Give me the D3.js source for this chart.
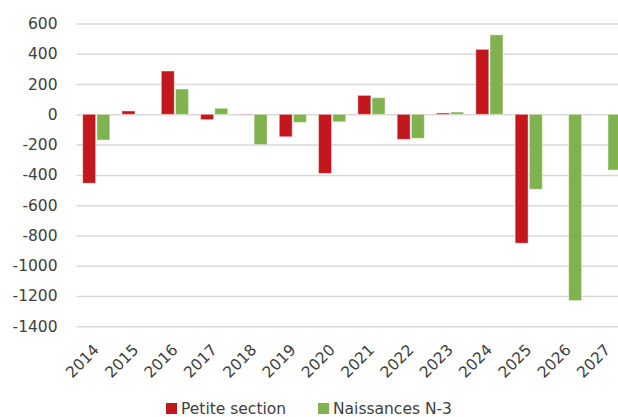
<!DOCTYPE html>
<html>
<head>
<meta charset="utf-8">
<script src="https://cdn.jsdelivr.net/npm/d3@7"></script>
<style>
  body { margin:0; background:#fff; }
  svg text { font-family: "DejaVu Sans", sans-serif; fill:#404040; }
</style>
</head>
<body>
<div class="chart"></div>
<script>
const years = ["2014","2015","2016","2017","2018","2019","2020","2021","2022","2023","2024","2025","2026","2027"];
const petiteSection = [-455, 22, 286, -35, 2, -148, -390, 125, -165, 9, 429, -851, 0, 0];
const naissances = [-170, 0, 167, 40, -200, -53, -49, 110, -158, 15, 525, -495, -1230, -368];
const yTicks = [600, 400, 200, 0, -200, -400, -600, -800, -1000, -1200, -1400];
const seriesNames = ["Petite section", "Naissances N-3"];
const colors = ["#c3161d", "#80b350"];

const W = 618, H = 417;
const fontSize = "15.5px";

const svg = d3.select(".chart")
    .append("svg")
    .attr("width", W)
    .attr("height", H);

// x: band per year, chart continues a bit past the right edge
let xScale = d3.scaleBand()
    .domain(years)
    .range([76.6, 627])
    .paddingInner(0)
    .paddingOuter(0);

let xInner = d3.scaleBand()
    .domain([0, 1])
    .range([6.1, xScale.bandwidth() - 6.1])
    .paddingInner(0.09);

let yScale = d3.scaleLinear()
    .domain([-1400, 600])
    .range([326.3, 23.5]);

// gridlines + y labels (plain hyphen, like the source)
let yAxis = d3.axisLeft(yScale)
    .tickValues(yTicks)
    .tickSize(-(627 - 76.6))
    .tickPadding(19)
    .tickFormat(d => String(d));

svg.append("g")
    .attr("class", "yAxis")
    .attr("transform", "translate(76.6,0)")
    .call(yAxis)
    .call(g => g.select(".domain").remove())
    .call(g => g.selectAll("line").attr("stroke", "#d9d9d9").attr("stroke-width", 1.5))
    .call(g => g.selectAll("text").style("font-size", fontSize).attr("fill", "#404040"));

// bars
const data = [];
years.forEach((y, i) => {
    data.push({ year: y, s: 0, v: petiteSection[i] });
    data.push({ year: y, s: 1, v: naissances[i] });
});

svg.append("g")
    .selectAll(".bar")
    .data(data.filter(d => d.v !== 0))
    .enter().append("rect")
    .attr("class", "bar")
    .attr("x", d => xScale(d.year) + xInner(d.s))
    .attr("width", xInner.bandwidth())
    .attr("y", d => yScale(Math.max(0, d.v)))
    .attr("height", d => Math.abs(yScale(d.v) - yScale(0)))
    .attr("fill", d => colors[d.s])
    .attr("stroke", "rgba(255,255,255,0.4)")
    .attr("stroke-width", 1);

// x labels, rotated
let xAxis = d3.axisBottom(xScale).tickSize(0).tickPadding(0);
svg.append("g")
    .attr("class", "xAxis")
    .attr("transform", "translate(0,347)")
    .call(xAxis)
    .call(g => g.select(".domain").remove())
    .call(g => g.selectAll("text")
        .style("font-size", fontSize)
        .attr("fill", "#404040")
        .attr("text-anchor", "end")
        .attr("y", 0)
        .attr("dy", "0.35em")
        .attr("transform", "rotate(-45)"));

// legend
const legend = svg.append("g").attr("class", "legend");
const legendX = [166, 318];
seriesNames.forEach((n, i) => {
    legend.append("rect")
        .attr("x", legendX[i])
        .attr("y", 403)
        .attr("width", 11)
        .attr("height", 11)
        .attr("fill", colors[i]);
    legend.append("text")
        .attr("x", legendX[i] + 15)
        .attr("y", 414)
        .style("font-size", fontSize)
        .text(n);
});
</script>
</body>
</html>
